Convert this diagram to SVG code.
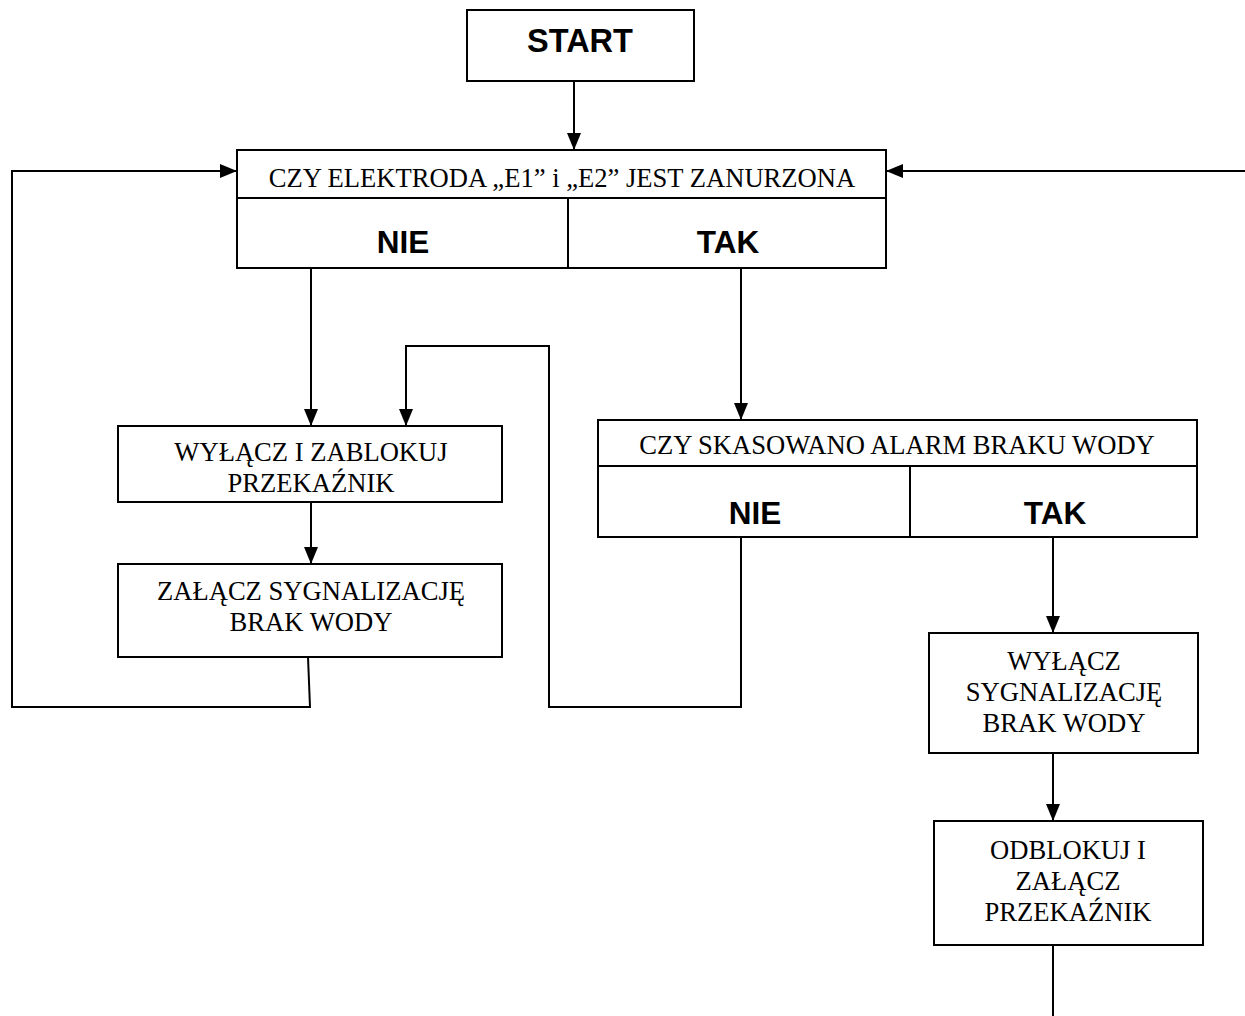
<svg xmlns="http://www.w3.org/2000/svg" width="1245" height="1016" viewBox="0 0 1245 1016">
<style>
.box{fill:#fff;stroke:#000;stroke-width:2}
.ln{fill:none;stroke:#000;stroke-width:2}
.t{font-family:"Liberation Serif","Times New Roman",serif;font-size:26.6px;text-anchor:middle;fill:#000}
.b{font-family:"Liberation Sans",Arial,sans-serif;font-weight:bold;font-size:31.5px;text-anchor:middle;fill:#000}
</style>
<defs>
<marker id="ah" viewBox="0 0 17 14" refX="17" refY="7" markerWidth="17" markerHeight="14" markerUnits="userSpaceOnUse" orient="auto">
<path d="M0,0 L17,7 L0,14 z" fill="#000"/>
</marker>
</defs>
<rect width="1245" height="1016" fill="#fff"/>
<g id="connectors">
<line class="ln" x1="574" y1="81" x2="574" y2="150" marker-end="url(#ah)"/>
<polyline class="ln" points="308,657 310,707 12,707 12,171 237,171" marker-end="url(#ah)"/>
<line class="ln" x1="1245" y1="171" x2="886" y2="171" marker-end="url(#ah)"/>
<line class="ln" x1="311" y1="269" x2="311" y2="426" marker-end="url(#ah)"/>
<line class="ln" x1="741" y1="269" x2="741" y2="420" marker-end="url(#ah)"/>
<polyline class="ln" points="741,537 741,707 549,707 549,346 406,346 406,426" marker-end="url(#ah)"/>
<line class="ln" x1="311" y1="502" x2="311" y2="564" marker-end="url(#ah)"/>
<line class="ln" x1="1053" y1="537" x2="1053" y2="633" marker-end="url(#ah)"/>
<line class="ln" x1="1053" y1="753" x2="1053" y2="821" marker-end="url(#ah)"/>
<line class="ln" x1="1053" y1="945" x2="1053" y2="1016"/>
</g>
<g id="start">
<rect class="box" x="467" y="10" width="227" height="71"/>
<text x="580" y="52" class="b" style="font-size:32.5px">START</text>
</g>
<g id="decision1">
<rect class="box" x="237" y="150" width="649" height="118"/>
<line class="ln" x1="237" y1="198" x2="886" y2="198"/>
<line class="ln" x1="568" y1="198" x2="568" y2="268"/>
<text x="562" y="187" class="t">CZY ELEKTRODA „E1” i „E2” JEST ZANURZONA</text>
<text x="403" y="253" class="b">NIE</text>
<text x="728" y="253" class="b">TAK</text>
</g>
<g id="wylacz-zablokuj">
<rect class="box" x="118" y="426" width="384" height="76"/>
<text x="311" y="461" class="t">WYŁĄCZ I ZABLOKUJ</text>
<text x="311" y="492" class="t">PRZEKAŹNIK</text>
</g>
<g id="zalacz-sygnalizacje">
<rect class="box" x="118" y="564" width="384" height="93"/>
<text x="311" y="600" class="t">ZAŁĄCZ SYGNALIZACJĘ</text>
<text x="311" y="631" class="t">BRAK WODY</text>
</g>
<g id="decision2">
<rect class="box" x="598" y="420" width="599" height="117"/>
<line class="ln" x1="598" y1="466" x2="1197" y2="466"/>
<line class="ln" x1="910" y1="466" x2="910" y2="537"/>
<text x="897" y="454" class="t">CZY SKASOWANO ALARM BRAKU WODY</text>
<text x="755" y="524" class="b">NIE</text>
<text x="1055" y="524" class="b">TAK</text>
</g>
<g id="wylacz-sygnalizacje">
<rect class="box" x="929" y="633" width="269" height="120"/>
<text x="1064" y="670" class="t">WYŁĄCZ</text>
<text x="1064" y="701" class="t">SYGNALIZACJĘ</text>
<text x="1064" y="732" class="t">BRAK WODY</text>
</g>
<g id="odblokuj">
<rect class="box" x="934" y="821" width="269" height="124"/>
<text x="1068" y="859" class="t">ODBLOKUJ I</text>
<text x="1068" y="890" class="t">ZAŁĄCZ</text>
<text x="1068" y="921" class="t">PRZEKAŹNIK</text>
</g>
</svg>
